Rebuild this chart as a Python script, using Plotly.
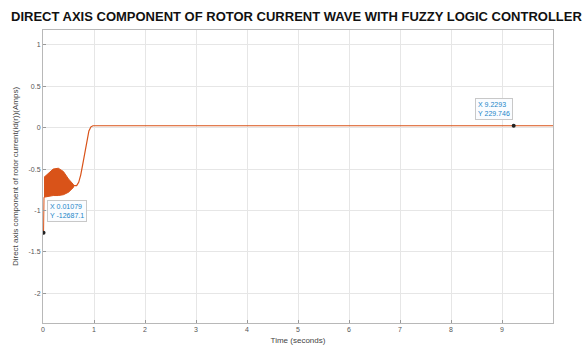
import plotly.graph_objects as go

# Rotor d-axis current, raw values in amps (axis ticks shown in units of 1e4)
spike_t = [0.01079]
spike_y = [-12687.1]

# Envelope of the fast start-up oscillation
band_t = [0.02, 0.10, 0.20, 0.30, 0.40, 0.50, 0.60]
band_upper = [-6000, -5500, -5000, -4900, -5300, -6200, -6900]
band_lower = [-8400, -8300, -8200, -8200, -8100, -7800, -7200]

# Settling trace after the oscillation dies out
trace_t = [0.60, 0.62, 0.66, 0.70, 0.74, 0.78, 0.82, 0.86, 0.90, 0.94, 0.98, 2.0, 4.0, 6.0, 8.0, 9.2293, 10.0]
trace_y = [-7000, -7000, -7000, -6600, -5700, -4400, -2900, -1400, -400, 100, 229.746,
           229.746, 229.746, 229.746, 229.746, 229.746, 229.746]

# Data tips
tip_t = [0.01079, 9.2293]
tip_y = [-12687.1, 229.746]

x_ticks = [0, 1, 2, 3, 4, 5, 6, 7, 8, 9]
y_ticks = [-20000, -15000, -10000, -5000, 0, 5000, 10000]
y_tick_text = ["-2", "-1.5", "-1", "-0.5", "0", "0.5", "1"]

orange = "#D95319"

fig = go.Figure()

# start-up spike into the oscillation band
fig.add_trace(go.Scatter(
    x=spike_t + [band_t[0]], y=spike_y + [band_lower[0]],
    mode="lines", line=dict(color=orange, width=1), showlegend=False, hoverinfo="skip"))

# oscillation band drawn as a filled envelope
fig.add_trace(go.Scatter(
    x=band_t + band_t[::-1], y=band_upper + band_lower[::-1],
    mode="lines", fill="toself", fillcolor=orange,
    line=dict(color=orange, width=1), showlegend=False, hoverinfo="skip"))

fig.add_trace(go.Scatter(
    x=trace_t, y=trace_y, mode="lines",
    line=dict(color=orange, width=1.2), showlegend=False))

fig.add_trace(go.Scatter(
    x=tip_t, y=tip_y, mode="markers",
    marker=dict(color="#222222", size=4), showlegend=False))

tip_box = dict(
    xref="x", yref="y", xanchor="left", yanchor="top", align="left",
    showarrow=False, bgcolor="rgba(250,252,255,0.95)", bordercolor="#c8c8c8",
    borderwidth=1, borderpad=2, font=dict(size=7, color="#1a86c8", family="Arial"))

fig.add_annotation(x=0.08, y=-8700, text="X 0.01079<br>Y -12687.1", **tip_box)
fig.add_annotation(x=8.47, y=3600, text="X 9.2293<br>Y 229.746", **tip_box)

axis_common = dict(
    showgrid=True, gridcolor="#e6e6e6", gridwidth=1,
    showline=True, linecolor="#b8b8b8", linewidth=1, mirror=True,
    ticks="inside", ticklen=3, tickcolor="#999999",
    tickfont=dict(size=7, color="#555555", family="Arial"),
    zeroline=False)

fig.update_xaxes(range=[0, 10], tickvals=x_ticks,
                 title=dict(text="Time (seconds)", font=dict(size=8, color="#444444", family="Arial"), standoff=4),
                 **axis_common)
fig.update_yaxes(range=[-23600, 11800], tickvals=y_ticks, ticktext=y_tick_text,
                 title=dict(text="Direct axis component of rotor current(id(r))(Amps)",
                            font=dict(size=8, color="#444444", family="Arial"), standoff=8),
                 **axis_common)

fig.update_layout(
    width=587, height=357,
    margin=dict(l=43, r=34, t=30, b=34),
    paper_bgcolor="white", plot_bgcolor="white",
    title=dict(text="<b>DIRECT AXIS COMPONENT OF ROTOR CURRENT WAVE WITH FUZZY LOGIC CONTROLLER</b>",
               x=0.505, xanchor="center", y=0.955, yanchor="middle",
               font=dict(size=13, color="#111111", family="Arial")),
)

fig.write_html("out.html")
